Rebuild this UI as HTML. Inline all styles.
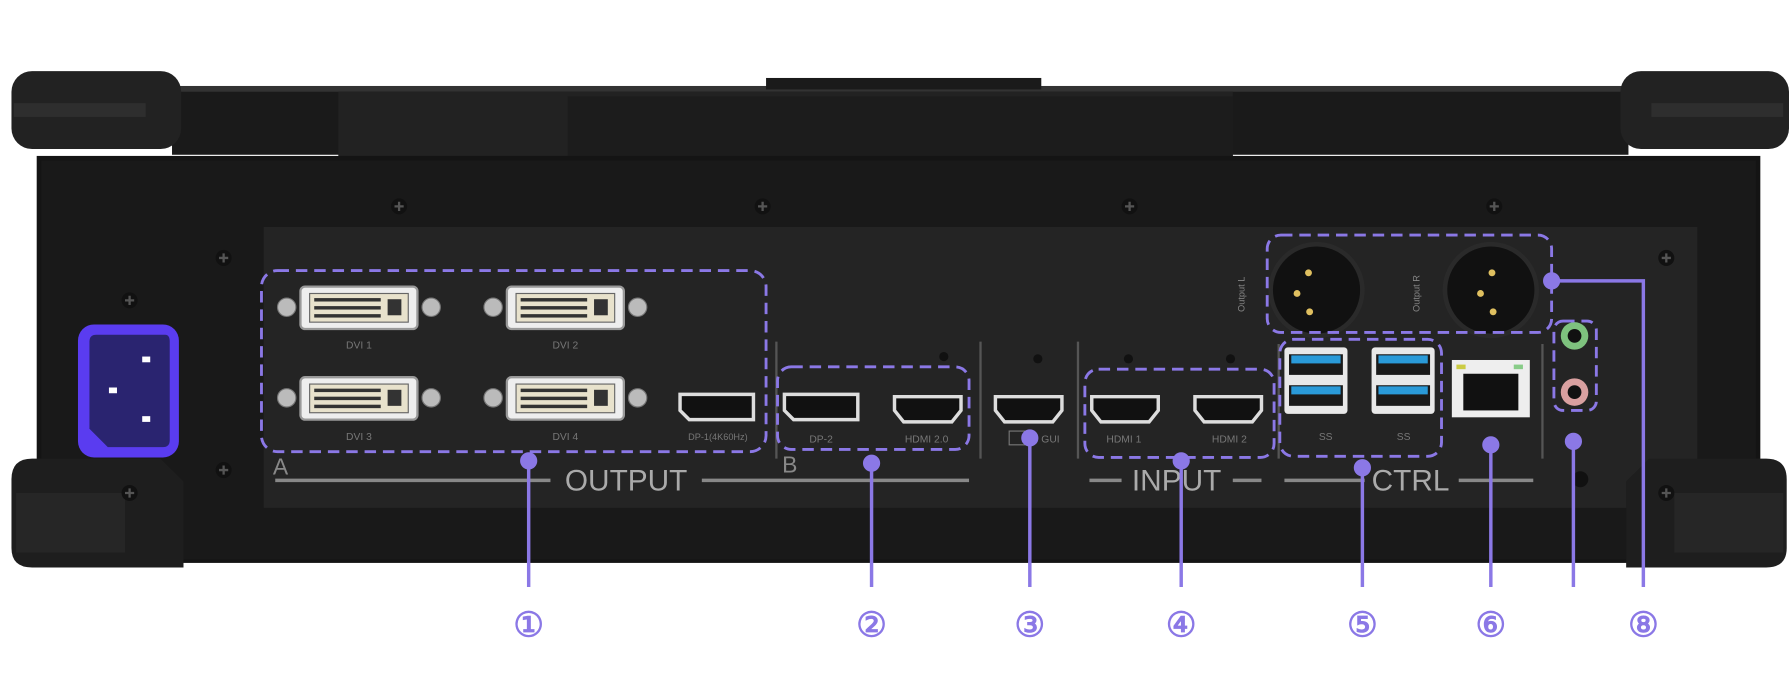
<!DOCTYPE html>
<html><head><meta charset="utf-8"><style>
html,body{margin:0;padding:0;background:#fff;}
svg{display:block}
text{font-family:"Liberation Sans","DejaVu Sans",sans-serif;}
</style></head><body>
<svg width="1789" height="681" viewBox="0 0 1560 594" preserveAspectRatio="none" xmlns="http://www.w3.org/2000/svg">
<defs>
<g id="dvi">
  <circle cx="-12" cy="18" r="8" fill="#bbb" stroke="#777"/>
  <circle cx="114" cy="18" r="8" fill="#bbb" stroke="#777"/>
  <rect x="0" y="0" width="102" height="37" rx="4" fill="#eee" stroke="#999" stroke-width="2"/>
  <rect x="8" y="6" width="86" height="25" fill="#e8e2cc" stroke="#666"/>
  <g fill="#333"><rect x="12" y="10" width="58" height="3"/><rect x="12" y="17" width="58" height="3"/><rect x="12" y="24" width="58" height="3"/><rect x="76" y="11" width="12" height="14"/></g>
</g>
<g id="hdmi">
  <path d="M2 2 H60 V14 L52 24 H10 L2 14 Z" fill="#111" stroke="#ddd" stroke-width="3"/>
</g>
<g id="dp">
  <path d="M2 2 H66 V24 H10 L2 16 Z" fill="#111" stroke="#ddd" stroke-width="3"/>
</g>
<g id="usb">
  <rect x="0" y="0" width="55" height="58" rx="3" fill="#e8e8e8"/>
  <rect x="4" y="6" width="47" height="18" fill="#1a1a1a"/><rect x="6" y="7" width="43" height="7" fill="#2a9ad8"/>
  <rect x="4" y="33" width="47" height="18" fill="#1a1a1a"/><rect x="6" y="34" width="43" height="7" fill="#2a9ad8"/>
</g>
<g id="screw"><circle r="7" fill="#111"/><path d="M-4 0H4M0 -4V4" stroke="#555" stroke-width="2"/></g>
</defs>

<!-- top rear bar and handles -->
<rect x="150" y="75" width="1270" height="60" fill="#1a1a1a"/>
<rect x="150" y="75" width="1270" height="5" fill="#333"/>
<rect x="295" y="80" width="780" height="72" fill="#222"/>
<rect x="495" y="84" width="580" height="56" fill="#1c1c1c"/>
<rect x="668" y="68" width="240" height="10" fill="#1a1a1a"/>
<rect x="10" y="62" width="148" height="68" rx="18" fill="#222"/>
<rect x="12" y="90" width="115" height="12" fill="#2e2e2e"/>
<rect x="1413" y="62" width="147" height="68" rx="18" fill="#222"/>
<rect x="1440" y="90" width="115" height="12" fill="#2e2e2e"/>

<!-- main body -->
<rect x="32" y="136" width="1503" height="355" fill="#141414"/>
<rect x="36" y="140" width="1495" height="348" fill="#191919"/>
<rect x="230" y="198" width="1250" height="245" fill="#242424"/>

<!-- bottom corners -->
<path d="M10 418 Q10 400 28 400 H140 L160 420 V495 H28 Q10 495 10 478 Z" fill="#1e1e1e"/>
<rect x="14" y="430" width="95" height="52" fill="#262626"/>
<path d="M1418 420 L1438 400 H1540 Q1558 400 1558 418 V478 Q1558 495 1540 495 H1418 Z" fill="#1e1e1e"/>
<rect x="1460" y="430" width="95" height="52" fill="#262626"/>

<!-- screws -->
<use href="#screw" x="348" y="180"/><use href="#screw" x="665" y="180"/><use href="#screw" x="985" y="180"/><use href="#screw" x="1303" y="180"/>
<use href="#screw" x="195" y="225"/><use href="#screw" x="113" y="262"/><use href="#screw" x="195" y="410"/><use href="#screw" x="113" y="430"/>
<use href="#screw" x="1453" y="225"/><use href="#screw" x="1453" y="430"/>

<!-- power inlet -->
<rect x="68" y="283" width="88" height="116" rx="14" fill="#5a3cf0"/>
<path d="M84 292 H144 Q148 292 148 298 V384 Q148 390 142 390 H94 L78 374 V298 Q78 292 84 292 Z" fill="#2a2470"/>
<rect x="124" y="311" width="7" height="5" fill="#fff"/><rect x="95" y="338" width="7" height="5" fill="#fff"/><rect x="124" y="363" width="7" height="5" fill="#fff"/>

<!-- DVI -->
<use href="#dvi" x="262" y="250"/><use href="#dvi" x="442" y="250"/>
<use href="#dvi" x="262" y="329"/><use href="#dvi" x="442" y="329"/>
<g fill="#777" font-size="9" text-anchor="middle">
<text x="313" y="304">DVI 1</text><text x="493" y="304">DVI 2</text>
<text x="313" y="384">DVI 3</text><text x="493" y="384">DVI 4</text>
<text x="626" y="384" font-size="8">DP-1(4K60Hz)</text>
<text x="716" y="386">DP-2</text><text x="808" y="386">HDMI 2.0</text>
<text x="916" y="386">GUI</text>
<text x="980" y="386">HDMI 1</text><text x="1072" y="386">HDMI 2</text>
<text x="1156" y="384">SS</text><text x="1224" y="384">SS</text>
</g>
<use href="#dp" x="591" y="342"/><use href="#dp" x="682" y="342"/>
<use href="#hdmi" x="778" y="344"/><use href="#hdmi" x="866" y="344"/>
<use href="#hdmi" x="950" y="344"/><use href="#hdmi" x="1040" y="344"/>
<rect x="880" y="376" width="14" height="12" fill="none" stroke="#777"/>
<g fill="#111"><circle cx="823" cy="311" r="4"/><circle cx="905" cy="313" r="4"/><circle cx="984" cy="313" r="4"/><circle cx="1073" cy="313" r="4"/></g>
<g stroke="#555" stroke-width="2"><line x1="677" y1="298" x2="677" y2="400"/><line x1="855" y1="298" x2="855" y2="400"/><line x1="940" y1="298" x2="940" y2="400"/><line x1="1115" y1="300" x2="1115" y2="400"/><line x1="1345" y1="300" x2="1345" y2="400"/></g>

<!-- USB / RJ45 -->
<use href="#usb" x="1120" y="303"/><use href="#usb" x="1196" y="303"/>
<rect x="1266" y="314" width="68" height="50" fill="#eee"/>
<rect x="1270" y="318" width="8" height="4" fill="#cc4"/><rect x="1320" y="318" width="8" height="4" fill="#8c8"/>
<rect x="1276" y="326" width="48" height="32" fill="#111"/>

<!-- XLR -->
<circle cx="1148" cy="253" r="40" fill="#111" stroke="#2a2a2a" stroke-width="4"/>
<circle cx="1300" cy="253" r="40" fill="#111" stroke="#2a2a2a" stroke-width="4"/>
<g fill="#e0c060"><circle cx="1141" cy="238" r="3"/><circle cx="1131" cy="256" r="3"/><circle cx="1142" cy="272" r="3"/>
<circle cx="1301" cy="238" r="3"/><circle cx="1291" cy="256" r="3"/><circle cx="1302" cy="272" r="3"/></g>
<text transform="translate(1085,272) rotate(-90)" fill="#888" font-size="8">Output L</text>
<text transform="translate(1238,272) rotate(-90)" fill="#888" font-size="8">Output R</text>

<!-- audio jacks -->
<circle cx="1373" cy="293" r="12" fill="#7ec27e"/><circle cx="1373" cy="293" r="6" fill="#111"/>
<circle cx="1373" cy="342" r="12" fill="#d9a0a0"/><circle cx="1373" cy="342" r="6" fill="#111"/>
<circle cx="1378" cy="418" r="7" fill="#111"/>

<!-- labels -->
<g fill="#aaa" font-size="26" text-anchor="middle">
<text x="546" y="428">OUTPUT</text><text x="1026" y="428">INPUT</text><text x="1230" y="428">CTRL</text>
</g>
<text x="238" y="414" fill="#888" font-size="20">A</text><text x="682" y="412" fill="#888" font-size="20">B</text>
<g stroke="#888" stroke-width="3">
<line x1="240" y1="419" x2="480" y2="419"/><line x1="612" y1="419" x2="845" y2="419"/>
<line x1="950" y1="419" x2="978" y2="419"/><line x1="1075" y1="419" x2="1100" y2="419"/>
<line x1="1120" y1="419" x2="1190" y2="419"/><line x1="1272" y1="419" x2="1337" y2="419"/>
</g>

<!-- dashed boxes -->
<g fill="none" stroke="#8b78e6" stroke-width="2.5" stroke-dasharray="10 6">
<rect x="228" y="236" width="440" height="158" rx="14"/>
<rect x="678" y="320" width="167" height="72" rx="12"/>
<rect x="1105" y="205" width="248" height="85" rx="12"/>
<rect x="946" y="322" width="165" height="77" rx="12"/>
<rect x="1116" y="296" width="141" height="102" rx="12"/>
<rect x="1355" y="280" width="37" height="78" rx="8"/>
</g>

<!-- leaders -->
<g stroke="#8b78e6" stroke-width="3" fill="#8b78e6">
<line x1="461" y1="402" x2="461" y2="512"/><circle cx="461" cy="402" r="6"/>
<line x1="760" y1="404" x2="760" y2="512"/><circle cx="760" cy="404" r="6"/>
<line x1="898" y1="382" x2="898" y2="512"/><circle cx="898" cy="382" r="6"/>
<line x1="1030" y1="402" x2="1030" y2="512"/><circle cx="1030" cy="402" r="6"/>
<line x1="1188" y1="408" x2="1188" y2="512"/><circle cx="1188" cy="408" r="6"/>
<line x1="1300" y1="388" x2="1300" y2="512"/><circle cx="1300" cy="388" r="6"/>
<line x1="1372" y1="385" x2="1372" y2="512"/><circle cx="1372" cy="385" r="6"/>
<polyline points="1353,245 1433,245 1433,512" fill="none"/><circle cx="1353" cy="245" r="6"/>
</g>
<g fill="#8b78e6" stroke="#8b78e6" stroke-width="0.8" font-size="30" text-anchor="middle" style="font-family:'DejaVu Sans','Noto Sans CJK SC',sans-serif">
<text x="461" y="555">①</text><text x="760" y="555">②</text><text x="898" y="555">③</text>
<text x="1030" y="555">④</text><text x="1188" y="555">⑤</text><text x="1300" y="555">⑥</text><text x="1433" y="555">⑧</text>
</g>
</svg>
</body></html>
